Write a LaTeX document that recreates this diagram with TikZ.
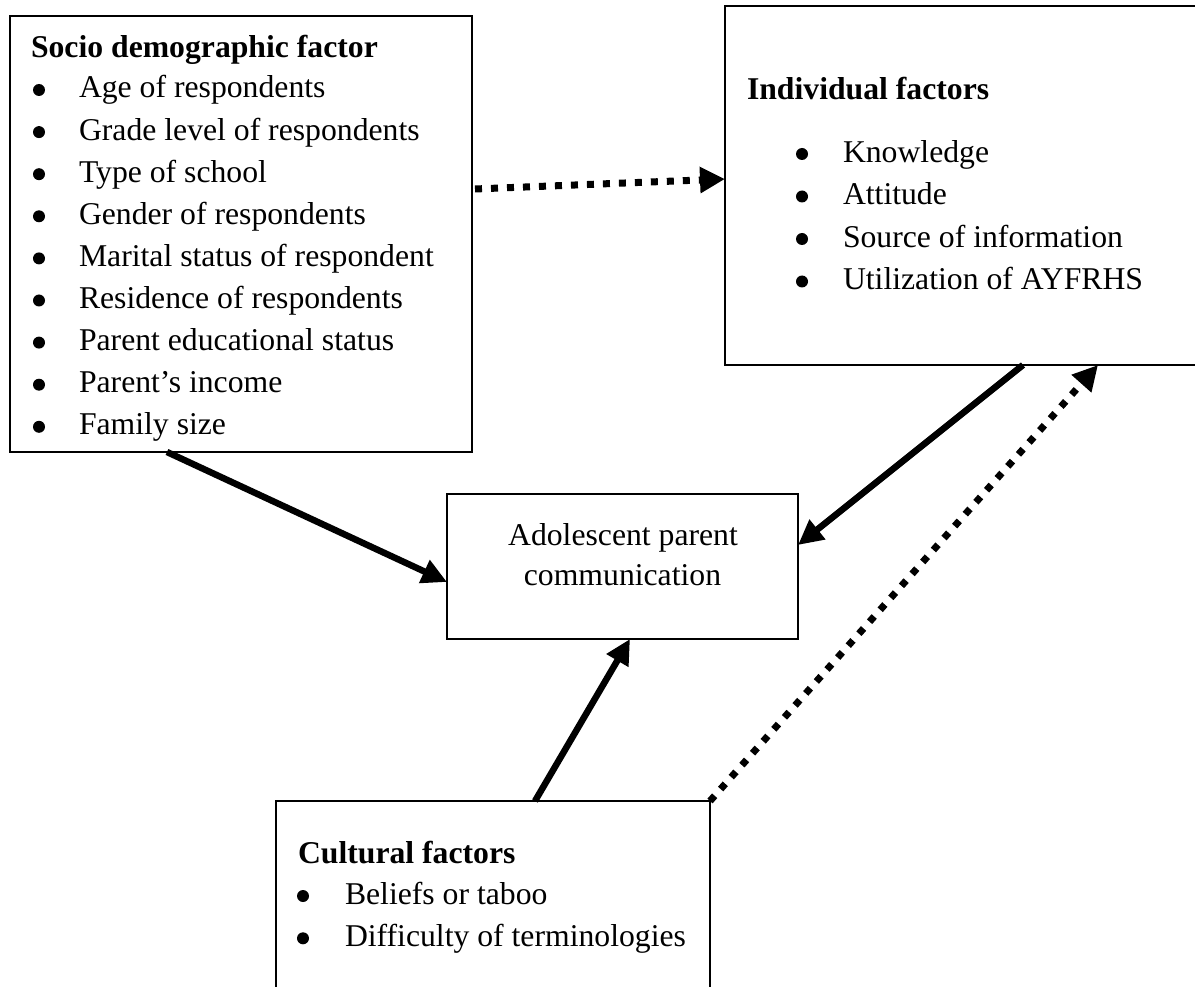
\documentclass[tikz,border=0pt]{standalone}
\usepackage{fontspec}
\setmainfont{Liberation Serif}
\usetikzlibrary{arrows.meta}
\begin{document}
\begin{tikzpicture}[x=1pt,y=-1pt,
  box/.style={draw, line width=2.2pt, inner sep=0pt, outer sep=0pt},
  txt/.style={anchor=base west, inner sep=0pt, outer sep=0pt, font={\fontsize{31.7}{42}\selectfont}},
  hd/.style={anchor=base west, inner sep=0pt, outer sep=0pt, font={\fontsize{31.7}{42}\selectfont\bfseries}},
  ctxt/.style={anchor=base, inner sep=0pt, outer sep=0pt, font={\fontsize{31.7}{42}\selectfont}},
  solidarrow/.style={line width=6.5pt, -{Triangle[length=25pt,width=24pt]}},
  dotarrow/.style={line width=7pt, dash pattern=on 7pt off 9pt, -{Triangle[length=25pt,width=25pt]}}]
\useasboundingbox (0,0) rectangle (1195,987);
\clip (0,0) rectangle (1195,987);
\fill[white] (0,0) rectangle (1195,987);
% boxes
\node[box, minimum width=462pt, minimum height=436pt] (b1) at (241,234) {};
\node[box, minimum width=490pt, minimum height=359pt] (b2) at (970,185.5) {};
\node[box, minimum width=351pt, minimum height=145pt] (b3) at (622.5,566.5) {};
\node[box, minimum width=434pt, minimum height=204pt] (b4) at (493,903) {};
% socio demographic
\node[hd] (h1) at (31,58) {Socio demographic factor};
\foreach \t [count=\i] in {Age of respondents, Grade level of respondents, Type of school, Gender of respondents, Marital status of respondent, Residence of respondents, Parent educational status, Parent’s income, Family size} {
  \node[txt] (s\i) at (79,{98+42.1*(\i-1)}) {\t};
  \fill (39,{90+42.1*(\i-1)}) circle[radius=6pt];
}
% individual
\node[hd] (h2) at (747,100) {Individual factors};
\foreach \t [count=\i] in {Knowledge, Attitude, Source of information, Utilization of AYFRHS} {
  \node[txt] (n\i) at (843,{162.5+42.5*(\i-1)}) {\t};
  \fill (802,{154+42.5*(\i-1)}) circle[radius=6pt];
}
% adolescent
\node[ctxt] (a1) at (623,545) {Adolescent parent};
\node[ctxt] (a2) at (622.5,585) {communication};
% cultural
\node[hd] (h4) at (298,863) {Cultural factors};
\foreach \t [count=\i] in {Beliefs or taboo, Difficulty of terminologies} {
  \node[txt] (c\i) at (345,{904+42.3*(\i-1)}) {\t};
  \fill (303,{896+42.3*(\i-1)}) circle[radius=6pt];
}
% connectors
\draw[dotarrow] ([xshift=3pt,yshift=45pt]b1.east) -- ([yshift=6.5pt]b2.west);
\draw[solidarrow] ([xshift=-74pt]b1.south) -- ([yshift=-15.5pt]b3.west);
\draw[solidarrow] ([xshift=53pt]b2.south) -- ([yshift=21.5pt]b3.east);
\draw[dotarrow] (b4.north east) -- ([xshift=128pt]b2.south);
\draw[solidarrow] ([xshift=42pt]b4.north) -- ([xshift=7.5pt]b3.south);
\end{tikzpicture}
\end{document}
